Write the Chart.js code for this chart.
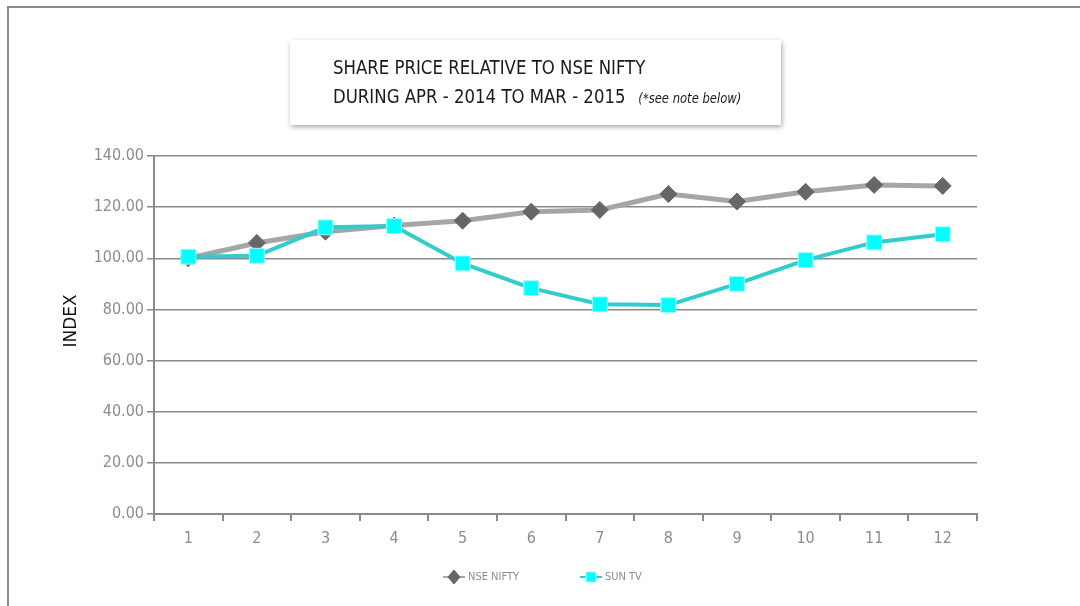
<!DOCTYPE html>
<html>
<head>
<meta charset="utf-8">
<script src="https://cdn.jsdelivr.net/npm/chart.js@4.4.1/dist/chart.umd.min.js"></script>
<style>
  html, body { margin: 0; padding: 0; background: #fff; }
  #wrap { position: relative; width: 1080px; height: 606px; overflow: hidden; }
  #frame { position: absolute; left: 7px; top: 6px; width: 1100px; height: 700px;
           border-top: 2px solid #8a8a8a; border-left: 2px solid #8a8a8a; }
  canvas { position: absolute; left: 0; top: 0; }
  #titlebox { position: absolute; left: 290px; top: 40px; width: 491px; height: 85px;
              background: #fff; box-shadow: 1px 2px 5px rgba(0,0,0,0.35);
              font-family: 'DejaVu Sans Condensed', 'Liberation Sans Narrow', sans-serif; color: #1a1a1a; }
  #titlebox .l1, #titlebox .l2 { position: absolute; left: 43px; font-size: 20px; white-space: nowrap;
              transform: scaleX(0.92); transform-origin: left center; }
  #titlebox .l1 { top: 15px; }
  #titlebox .l2 { top: 44px; }
  #titlebox .note { font-style: italic; font-size: 14px; margin-left: 14px; }
</style>
</head>
<body>
<div id="wrap">
  <div id="frame"></div>
  <canvas id="c" width="1080" height="606"></canvas>
  <div id="titlebox">
    <div class="l1">SHARE PRICE RELATIVE TO NSE NIFTY</div>
    <div class="l2">DURING APR - 2014 TO MAR - 2015<span class="note">(*see note below)</span></div>
  </div>
</div>
<script>
const categories = ['1','2','3','4','5','6','7','8','9','10','11','12'];
const nseNifty = [100.0, 106.0, 110.4, 112.8, 114.7, 118.2, 118.9, 125.1, 122.2, 126.0, 128.7, 128.3];
const sunTv    = [100.6, 101.0, 112.1, 112.6, 98.0, 88.3, 82.0, 81.7, 90.0, 99.3, 106.2, 109.4];
const yTicks = [0, 20, 40, 60, 80, 100, 120, 140];
const seriesNames = ['NSE NIFTY', 'SUN TV'];
const yAxisTitle = 'INDEX';

const FONT = "'DejaVu Sans Condensed', 'Liberation Sans Narrow', sans-serif";
const GRID = '#8a8a8a';

const extrasPlugin = {
  id: 'extras',
  afterDraw(chart) {
    const ctx = chart.ctx;
    const y = 577;
    const items = [{x: 443, ds: chart.data.datasets[0]}, {x: 580, ds: chart.data.datasets[1]}];
    ctx.save();
    items.forEach(it => {
      ctx.strokeStyle = it.ds.borderColor;
      ctx.lineWidth = 2;
      ctx.beginPath(); ctx.moveTo(it.x, y); ctx.lineTo(it.x + 22, y); ctx.stroke();
      ctx.fillStyle = it.ds.pointBackgroundColor;
      ctx.strokeStyle = it.ds.pointBorderColor;
      ctx.lineWidth = 1;
      ctx.beginPath();
      if (it.ds.pointStyle === 'rect') { ctx.rect(it.x + 6, y - 5, 10, 10); }
      else { ctx.moveTo(it.x + 11, y - 7); ctx.lineTo(it.x + 17, y); ctx.lineTo(it.x + 11, y + 7); ctx.lineTo(it.x + 5, y); ctx.closePath(); }
      ctx.fill(); ctx.stroke();
      ctx.fillStyle = '#8c8c8c';
      ctx.font = '11px ' + FONT;
      ctx.textBaseline = 'middle';
      ctx.textAlign = 'left';
      ctx.fillText(it.ds.label, it.x + 25, y);
    });
    ctx.translate(72, 321);
    ctx.rotate(-Math.PI / 2);
    ctx.fillStyle = '#111';
    ctx.font = "17px 'DejaVu Sans', sans-serif";
    ctx.textAlign = 'center';
    ctx.textBaseline = 'middle';
    ctx.fillText(yAxisTitle, 0, 0);
    ctx.restore();
  }
};

new Chart(document.getElementById('c'), {
  type: 'line',
  data: {
    labels: categories,
    datasets: [
      { label: seriesNames[0], data: nseNifty, borderColor: '#a6a6a6', borderWidth: 5,
        pointStyle: 'rectRot', pointRadius: 8.5, pointBackgroundColor: '#666666', pointBorderColor: '#666666',
        pointBorderWidth: 1, tension: 0, order: 2 },
      { label: seriesNames[1], data: sunTv, borderColor: '#33cccc', borderWidth: 4,
        pointStyle: 'rect', pointRadius: 10.5, pointBackgroundColor: '#00ffff', pointBorderColor: '#9ffcfc',
        pointBorderWidth: 1, tension: 0, order: 1 }
    ]
  },
  options: {
    responsive: false,
    animation: false,
    events: [],
    layout: { padding: { left: 0, right: 103, top: 156, bottom: 0 } },
    plugins: { legend: { display: false }, tooltip: { enabled: false }, title: { display: false } },
    scales: {
      x: {
        offset: true,
        grid: { offset: true, drawOnChartArea: false, drawTicks: true, tickLength: 7, color: GRID, lineWidth: 2 },
        border: { color: GRID, width: 2 },
        ticks: { color: '#8c8c8c', font: { family: FONT, size: 16 }, padding: 8 },
        afterFit(s) { s.height = 92; }
      },
      y: {
        min: 0, max: 140,
        afterBuildTicks(s) { s.ticks = yTicks.map(v => ({ value: v })); },
        grid: { color: GRID, lineWidth: 1.5, drawTicks: true, tickLength: 7 },
        border: { color: GRID, width: 2 },
        ticks: { color: '#8c8c8c', font: { family: FONT, size: 16 }, padding: 3,
                 callback: v => Number(v).toFixed(2) },
        afterFit(s) { s.width = 154; }
      }
    }
  },
  plugins: [extrasPlugin]
});
</script>
</body>
</html>
